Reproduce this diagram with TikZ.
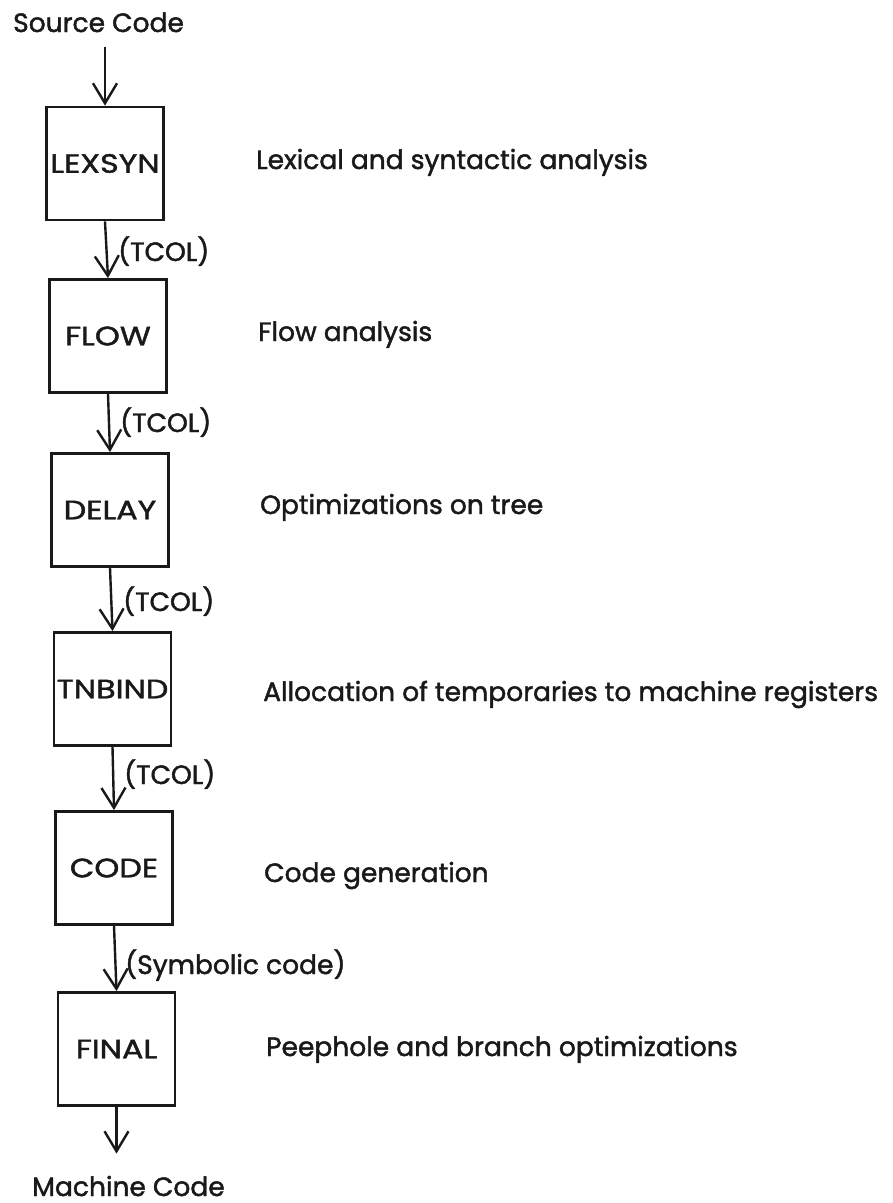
\documentclass[tikz,border=0pt]{standalone}
\usepackage{fontspec}
\setmainfont{Poppins}[FakeBold=1.6]
\newfontfamily\boxfont{Poppins}[FakeBold=1.6,FakeStretch=1.2]
\usetikzlibrary{arrows.meta}
\begin{document}
\begin{tikzpicture}[x=1pt,y=-1pt,
  txt/.style={inner sep=0pt, font=\fontsize{26.5}{30}\selectfont, text=black!90},
  stage/.style={txt, font=\boxfont\fontsize{26.5}{30}\selectfont, draw=black!90, line width=2.8pt, minimum width=117pt, minimum height=113pt},
  lbl/.style={txt, anchor=base west},
  flow/.style={draw=black!90, line width=2.4pt, -{Straight Barb[length=20pt,width=24pt,line width=2.4pt]}}
]
\fill[white] (0,0) rectangle (893,1203);
\useasboundingbox (0,0) rectangle (893,1203);

% endpoints
\node[lbl] (src) at (13,32) {Source Code};
\node[lbl] (mc) at (32,1196) {Machine Code};

% stages
\node[stage] (lex) at (105,163.5) {LEXSYN};
\node[stage] (flw) at (108,336) {FLOW};
\node[stage] (dly) at (110,510) {DELAY};
\node[stage] (tnb) at (112.5,689) {TNBIND};
\node[stage] (cod) at (114,868) {CODE};
\node[stage] (fin) at (116.5,1049) {FINAL};

% descriptions
\node[lbl] (dlex) at (256,169) {Lexical and syntactic analysis};
\node[lbl] (dflw) at (258,341) {Flow analysis};
\node[lbl] (ddly) at (260,514) {Optimizations on tree};
\node[lbl] (dtnb) at (263,701) {Allocation of temporaries to machine registers};
\node[lbl] (dcod) at (264,882) {Code generation};
\node[lbl] (dfin) at (266,1056) {Peephole and branch optimizations};

% connectors
\path (src.south -| lex.north) ++(0,15) coordinate (s0);
\path (fin.south |- mc.north) ++(0,-22) coordinate (m0);
\draw[flow] (s0) -- (lex.north);
\draw[flow] (lex.south) -- (flw.north);
\draw[flow] (flw.south) -- (dly.north);
\draw[flow] (dly.south) -- (tnb.north);
\draw[flow] (tnb.south) -- (cod.north);
\draw[flow] (cod.south) -- (fin.north);
\draw[flow] (fin.south) -- (m0);

% connector labels
\node[lbl] (t1) at (118,261) {(TCOL)};
\node[lbl] (t2) at (120,432) {(TCOL)};
\node[lbl] (t3) at (123,611) {(TCOL)};
\node[lbl] (t4) at (124,784) {(TCOL)};
\node[lbl] (t5) at (125,974) {(Symbolic code)};
\end{tikzpicture}
\end{document}
